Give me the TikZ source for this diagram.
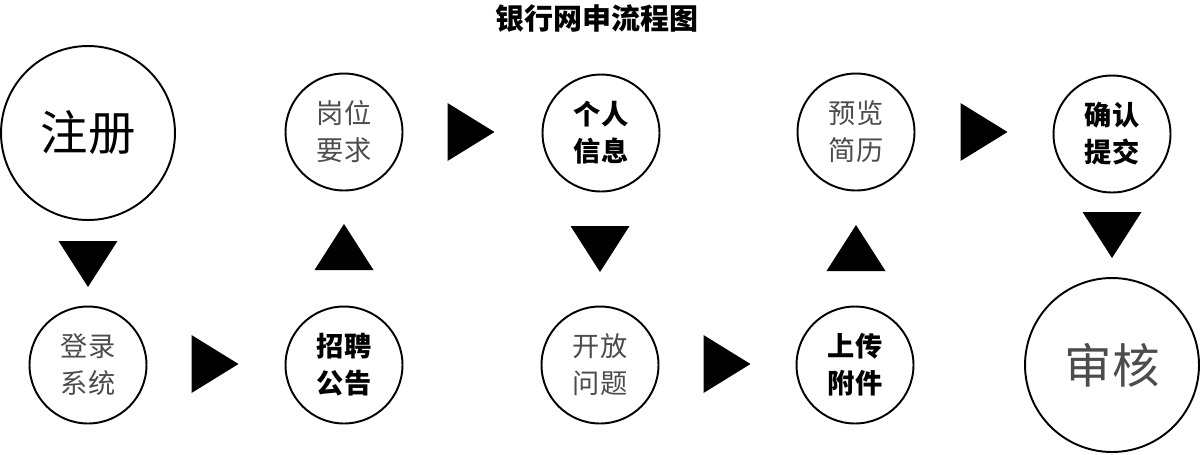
\documentclass[tikz,border=0pt]{standalone}
\usepackage{fontspec}
\setmainfont{Noto Sans CJK SC}
\usetikzlibrary{positioning}

\begin{document}
\begin{tikzpicture}[
    x=0.02cm, y=-0.02cm,
    stage/.style={circle, draw, line width=1.1pt, minimum size=2.34cm, inner sep=0pt, align=center,
                 font=\fontsize{15.5}{21}\selectfont, text=black!70},
    keystage/.style={stage, font=\fontsize{15.5}{21}\selectfont\bfseries, text=black},
    bigstage/.style={stage, minimum size=3.48cm, font=\fontsize{27}{30}\selectfont},
    tdown/.pic={\fill (-29.5,-23) -- (29.5,-23) -- (0,23) -- cycle;},
    tup/.pic={\fill (-29.5,23) -- (29.5,23) -- (0,-23) -- cycle;},
    tright/.pic={\fill (-23.5,-29) -- (23.5,0) -- (-23.5,29) -- cycle;}
]
    \useasboundingbox (0,0) rectangle (1200,454);

    \node [font=\fontsize{16.5}{18}\selectfont\bfseries] (title) at (597,18) {银行网申流程图};

    \node [bigstage, text=black] (reg) at (88,133) {注册};
    \node [stage] (login) at (88,365) {登录\\系统};
    \node [keystage] (notice) at (344,365) {招聘\\公告};
    \node [stage] (req) at (344,132) {岗位\\要求};
    \node [keystage] (info) at (601,133) {个人\\信息};
    \node [stage] (quest) at (600,365) {开放\\问题};
    \node [keystage] (upload) at (855,365) {上传\\附件};
    \node [stage] (preview) at (856,132) {预览\\简历};
    \node [keystage] (submit) at (1112,134) {确认\\提交};
    \node [bigstage] (audit) at (1112,365) {审核};

    % arrows between the stages
    \pic at (88,264) {tdown};
    \pic at (215,364) {tright};
    \pic at (344,247) {tup};
    \pic at (471,132) {tright};
    \pic at (600,249) {tdown};
    \pic at (727,364) {tright};
    \pic at (856,248) {tup};
    \pic at (984,132) {tright};
    \pic at (1112,235) {tdown};
\end{tikzpicture}
\end{document}
